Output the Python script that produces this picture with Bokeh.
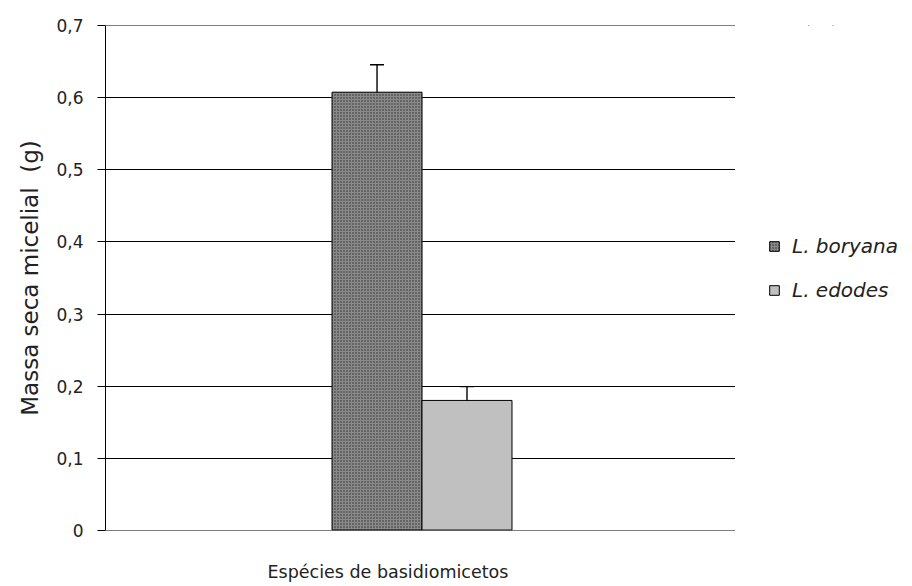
from bokeh.plotting import figure
from bokeh.models import (FactorRange, Range1d, FixedTicker, Whisker, ColumnDataSource,
                          Legend, LegendItem, Title)
from bokeh.layouts import row, column
from bokeh.transform import dodge
from bokeh.embed import file_html
from bokeh.resources import INLINE

# ---- data ----
category = ["Espécies"]
species = ["L. boryana", "L. edodes"]
mean_boryana = [0.608]
mean_edodes = [0.180]
upper_boryana = [0.646]
lower_boryana = [0.571]
upper_edodes = [0.199]
lower_edodes = [0.158]
y_ticks = [0, 0.1, 0.2, 0.3, 0.4, 0.5, 0.6, 0.7]
y_tick_labels = ["0", "0,1", "0,2", "0,3", "0,4", "0,5", "0,6", "0,7"]
x_title = "Espécies de basidiomicetos"
y_title = "Massa seca micelial\u00a0 (g)"

FONT = "DejaVu Sans"
TXT = "#222222"
STYLE_B = dict(fill_color="#8a8a8a", line_color="black", line_width=1,
               hatch_pattern="dot", hatch_scale=3, hatch_color="#2a2a2a", hatch_weight=1)
STYLE_E = dict(fill_color="#c0c0c0", line_color="black", line_width=1)

MAIN_H = 542  # 25 top + 505 frame + 12 bottom

# ---------------- main chart ----------------
p = figure(frame_width=630, frame_height=505,
           x_range=FactorRange(*category, range_padding=0),
           y_range=Range1d(-0.0006, 0.7006), output_backend="svg", toolbar_location=None,
           x_axis_location=None,
           min_border_left=105, min_border_right=0, min_border_top=25,
           min_border_bottom=12)
p.outline_line_color = None

src_b = ColumnDataSource(dict(x=category, top=mean_boryana, up=upper_boryana, lo=lower_boryana))
src_e = ColumnDataSource(dict(x=category, top=mean_edodes, up=upper_edodes, lo=lower_edodes))

w = 1 / 7
off_b = -0.0690
off_e = 0.0738

p.vbar(x=dodge("x", off_b, range=p.x_range), top="top", width=w, source=src_b, **STYLE_B)
p.vbar(x=dodge("x", off_e, range=p.x_range), top="top", width=w, source=src_e, **STYLE_E)

wb = Whisker(base=dodge("x", off_b, range=p.x_range), upper="up", lower="lo", source=src_b,
             line_color="black", line_width=1.4, dimension="height")
wb.upper_head.size = 14
wb.upper_head.line_width = 1.5
wb.lower_head.size = 14
wb.lower_head.line_color = "#202020"
p.add_layout(wb)

we = Whisker(base=dodge("x", off_e, range=p.x_range), upper="up", lower="lo", source=src_e,
             line_color="black", line_width=1.4, dimension="height")
we.upper_head.size = 14
we.lower_head.line_alpha = 0
p.add_layout(we)

p.yaxis.ticker = FixedTicker(ticks=y_ticks)
p.yaxis.major_label_overrides = {t: l for t, l in zip(y_ticks, y_tick_labels)}
p.yaxis.major_label_text_font = FONT
p.yaxis.major_label_text_font_size = "17px"
p.yaxis.major_label_text_color = TXT
p.yaxis.major_label_standoff = 14
p.yaxis.major_tick_out = 8
p.yaxis.major_tick_in = 0
p.yaxis.minor_tick_line_color = None
p.yaxis.axis_line_color = "black"
p.yaxis.major_tick_line_color = "black"
p.yaxis.axis_label = y_title
p.yaxis.axis_label_text_font = FONT
p.yaxis.axis_label_text_font_style = "normal"
p.yaxis.axis_label_text_font_size = "23px"
p.yaxis.axis_label_text_color = TXT
p.yaxis.axis_label_standoff = 10

p.xgrid.grid_line_color = None
p.ygrid.grid_line_color = "black"
p.ygrid.grid_line_width = 1.2

# ---------------- legend panel ----------------
# the bars of this panel are kept out of view (zero width, y range far below the data);
# they exist only so that the legend can draw their swatches
pl = figure(width=170, height=MAIN_H, x_range=FactorRange(*category, range_padding=0),
            y_range=Range1d(-11, -10), output_backend="svg", toolbar_location=None,
            x_axis_location=None, y_axis_location=None,
            min_border_left=0, min_border_right=0, min_border_top=0, min_border_bottom=0)
pl.outline_line_color = None
pl.grid.grid_line_color = None
lb = pl.vbar(x=dodge("x", off_b, range=pl.x_range), top="top", width=0, source=src_b, **STYLE_B)
le = pl.vbar(x=dodge("x", off_e, range=pl.x_range), top="top", width=0, source=src_e, **STYLE_E)
legend = Legend(items=[LegendItem(label=species[0], renderers=[lb]),
                       LegendItem(label=species[1], renderers=[le])],
                location=(33, MAIN_H - 314), glyph_width=12, glyph_height=12,
                label_standoff=12, spacing=20, padding=0, margin=0,
                label_text_font=FONT, label_text_font_style="italic",
                label_text_font_size="20px", label_text_color=TXT,
                border_line_color=None, background_fill_alpha=0)
pl.add_layout(legend, "center")

# ---------------- x title strip ----------------
pt = figure(width=905, height=586 - MAIN_H, output_backend="svg", toolbar_location=None,
            x_axis_location=None, y_axis_location=None,
            min_border_left=0, min_border_right=0, min_border_top=0, min_border_bottom=0)
pt.outline_line_color = None
pt.grid.grid_line_color = None
pt.add_layout(Title(text=x_title, align="left", offset=267, text_font=FONT,
                    text_font_size="17.5px", text_font_style="normal", text_color=TXT,
                    vertical_align="bottom", standoff=10), "below")

layout = column(row(p, pl), pt)
open("out.html", "w").write(file_html(layout, INLINE))
